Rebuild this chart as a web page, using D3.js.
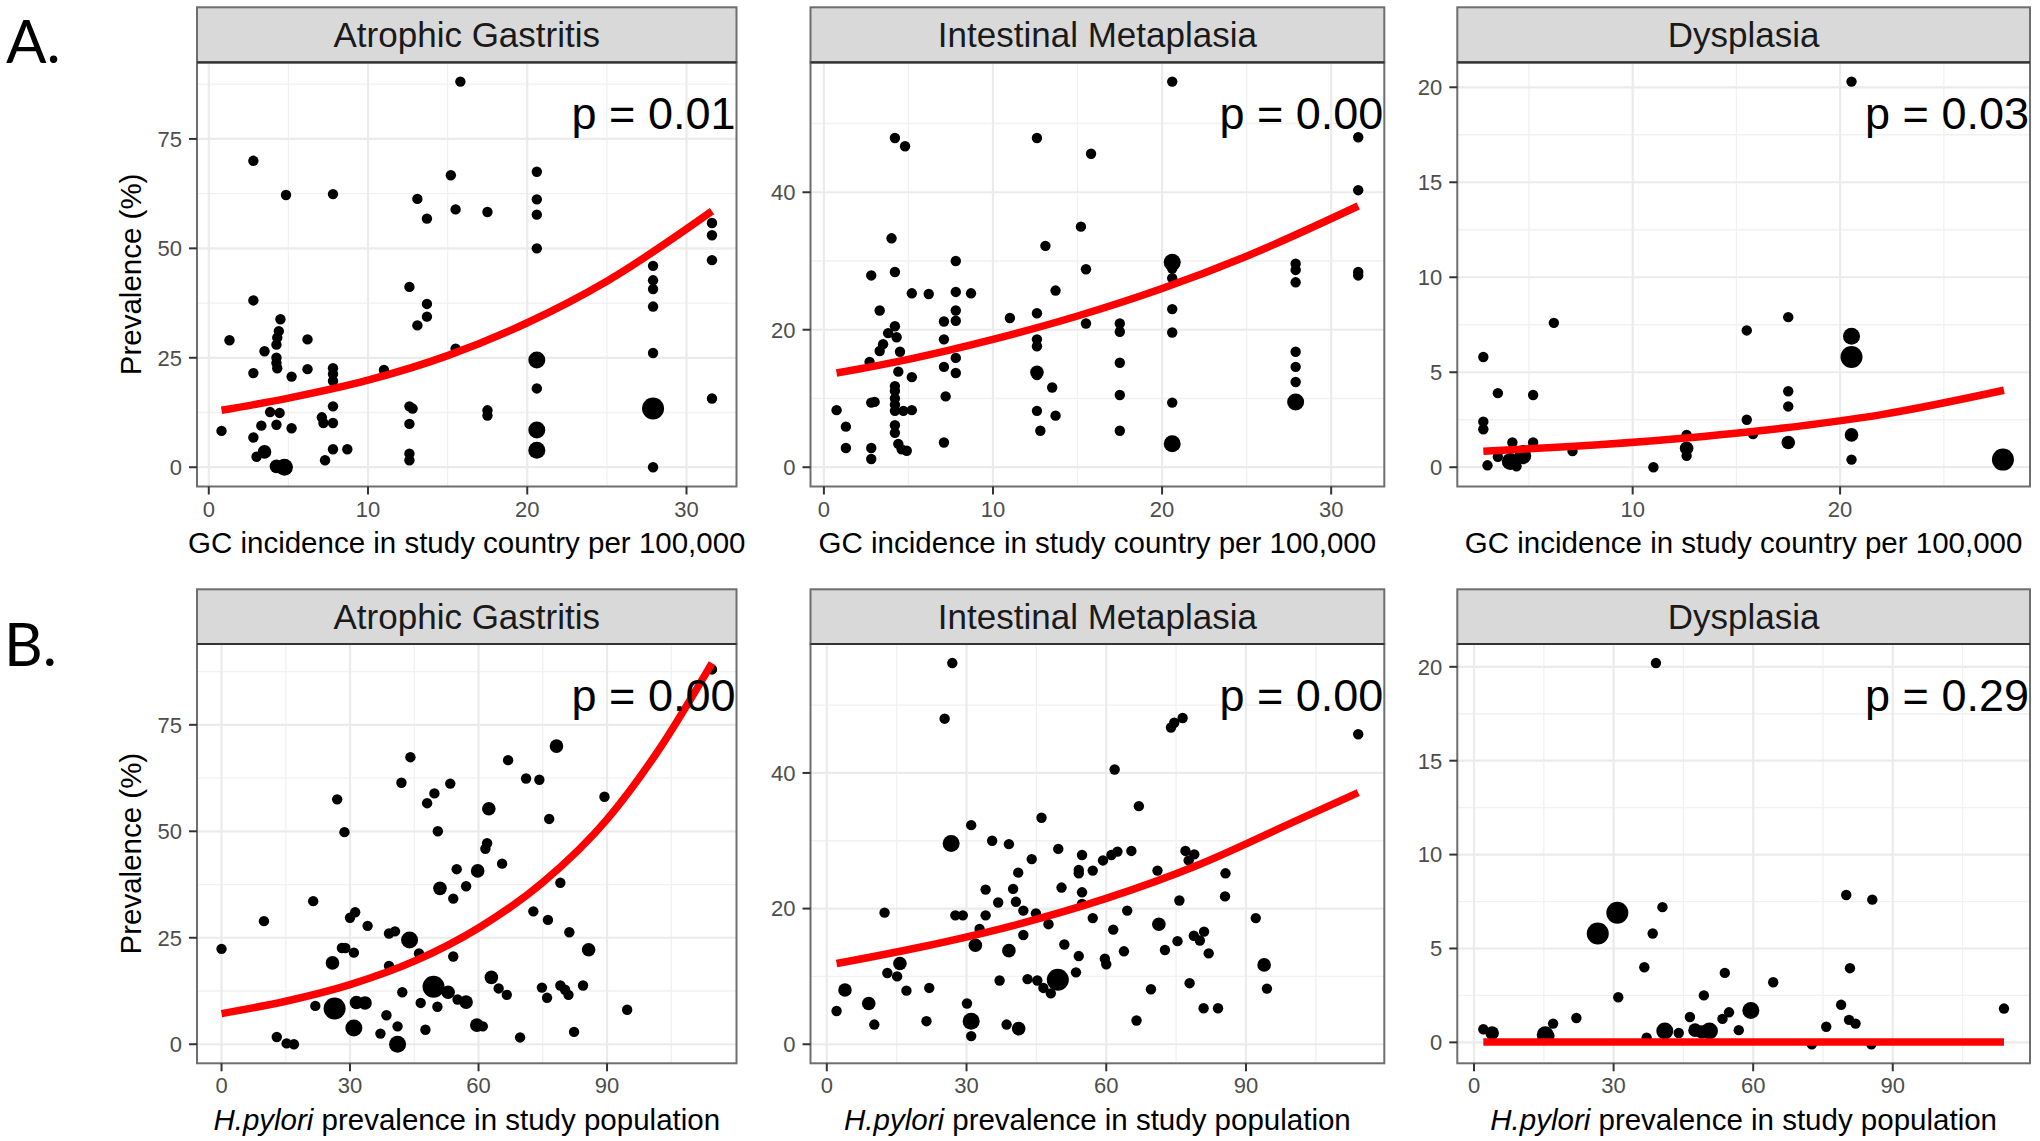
<!DOCTYPE html>
<html>
<head>
<meta charset="utf-8">
<script src="https://cdn.jsdelivr.net/npm/d3@7"></script>
<style>
  body { margin: 0; background: #fff; }
  svg { display: block; }
  text { font-family: "Liberation Sans", Arial, Helvetica, sans-serif; }
</style>
</head>
<body>
<svg id="chart" width="2040" height="1141"></svg>
<script>
// ---- data: [x, y, size class] ----

// A. GC incidence (per 100,000) vs prevalence
const agIncidence = [
  [15.8, 88.1, 1], [2.8, 70, 1], [4.85, 62.2, 1], [7.8, 62.4, 1], [15.2, 66.7, 1],
  [13.1, 61.3, 1], [15.5, 58.9, 1], [17.5, 58.3, 1], [13.7, 56.8, 1],
  [20.6, 67.5, 1], [20.6, 61.2, 1], [20.6, 57.7, 1], [20.6, 50, 1],
  [12.6, 41.2, 1], [13.7, 37.3, 1], [13.7, 34.4, 1], [13.1, 32.4, 1], [15.5, 27.1, 1],
  [2.8, 38.1, 1], [1.3, 29, 1], [3.5, 26.5, 1], [4.5, 33.8, 1], [4.4, 31.1, 1],
  [4.3, 29.6, 1], [4.25, 28, 1], [4.25, 25, 1], [4.25, 23.8, 1], [4.3, 22.6, 1],
  [2.8, 21.5, 1], [5.2, 20.7, 1], [6.2, 29.2, 1], [6.2, 22.4, 1], [7.8, 22.6, 1],
  [7.8, 21.3, 1], [7.8, 19.7, 1], [11.0, 22.2, 1],
  [27.9, 46, 1], [27.9, 42.7, 1], [27.9, 40.7, 1], [27.9, 36.7, 1], [27.9, 26.1, 1],
  [27.9, 13.4, 4], [27.9, 0, 1],
  [31.6, 55.8, 1], [31.6, 53, 1], [31.6, 47.3, 1], [31.6, 15.7, 1],
  [20.6, 24.5, 3], [20.6, 18, 1], [20.6, 8.5, 3], [20.6, 3.9, 3],
  [17.5, 13, 1], [17.5, 11.8, 1], [12.6, 13.9, 1], [12.8, 13.4, 1], [12.6, 9.9, 1],
  [12.6, 3.1, 1], [12.6, 1.6, 1],
  [0.8, 8.3, 1], [2.8, 6.8, 1], [3.3, 9.5, 1], [3.0, 2.4, 1], [3.5, 3.5, 2],
  [3.85, 12.6, 1], [4.45, 12.4, 1], [4.25, 9.7, 1], [4.25, 0.2, 2], [4.75, 0, 3],
  [5.2, 8.9, 1], [7.1, 11.4, 1], [7.2, 10.1, 1], [7.3, 1.6, 1], [7.8, 13.9, 1],
  [7.8, 10.1, 1], [7.8, 4.1, 1], [8.7, 4.1, 1]
];
const agIncidenceFit = [[0.8, 13.0], [5, 15.8], [10, 19.9], [15, 25.5], [20, 33.0], [25, 42.5], [31.6, 58.5]];

const imIncidence = [
  [20.6, 56.1, 1], [4.2, 47.9, 1], [4.8, 46.7, 1], [12.6, 47.9, 1], [15.8, 45.6, 1],
  [31.6, 48, 1], [31.6, 40.3, 1], [15.2, 35, 1], [13.1, 32.2, 1], [4.0, 33.3, 1],
  [4.2, 28.4, 1], [2.8, 27.9, 1], [7.8, 30, 1], [15.5, 28.8, 1], [13.7, 25.7, 1],
  [5.2, 25.3, 1], [6.2, 25.2, 1], [7.8, 25.5, 1], [8.7, 25.3, 1], [3.3, 22.8, 1],
  [7.8, 22.8, 1], [7.8, 21.3, 1], [7.1, 21.2, 1], [7.1, 18.6, 1], [11.0, 21.7, 1],
  [12.6, 22.4, 1], [12.6, 18.6, 1], [12.6, 17.6, 1], [15.5, 20.9, 1], [17.5, 20.9, 1],
  [17.5, 19.7, 1],
  [20.6, 29.8, 3], [20.6, 28.9, 1], [20.6, 27.5, 1], [20.6, 23, 1], [20.6, 19.6, 1],
  [20.6, 9.4, 1], [20.6, 3.4, 3],
  [27.9, 29.6, 1], [27.9, 28.7, 1], [27.9, 26.9, 1], [27.9, 16.8, 1], [27.9, 14.6, 1],
  [27.9, 12.4, 1], [27.9, 9.5, 3], [31.6, 28.4, 1], [31.6, 27.9, 1],
  [4.2, 20.5, 1], [3.8, 19.5, 1], [4.3, 18.9, 1], [3.5, 17.9, 1], [3.3, 16.9, 1],
  [4.5, 16.8, 1], [2.7, 15.3, 1], [4.4, 13.9, 1], [5.2, 13.1, 1], [4.2, 11.8, 1],
  [4.2, 11.1, 1], [4.2, 10, 1], [4.2, 9.1, 1], [4.2, 8.2, 1], [4.7, 8.2, 1],
  [5.2, 8.3, 1], [4.2, 6.1, 1], [4.2, 5.0, 1], [4.4, 3.4, 1], [4.6, 2.6, 1],
  [4.9, 2.4, 1], [0.75, 8.3, 1], [1.3, 5.9, 1], [1.3, 2.8, 1], [2.8, 9.4, 1],
  [3.0, 9.5, 1], [2.8, 2.8, 1], [2.8, 1.2, 1], [7.1, 14.6, 1], [7.8, 15.9, 1],
  [7.8, 13.7, 1], [7.2, 10.3, 1], [7.1, 3.6, 1], [12.6, 13.8, 2], [12.6, 13.4, 1],
  [13.5, 11.6, 1], [12.6, 8.2, 1], [13.7, 7.5, 1], [12.8, 5.3, 1], [17.5, 15.2, 1],
  [17.5, 10.5, 1], [17.5, 5.3, 1]
];
const imIncidenceFit = [[0.75, 13.7], [5, 15.7], [10, 18.6], [15, 22.0], [20, 26.0], [25, 30.7], [31.6, 38.0]];

const dysIncidence = [
  [20.55, 20.3, 1], [6.2, 7.6, 1], [2.8, 5.8, 1], [3.5, 3.9, 1], [5.2, 3.8, 1],
  [2.8, 2.4, 1], [2.8, 2.0, 1], [4.2, 1.3, 1], [5.2, 1.3, 1], [3.0, 0.1, 1],
  [3.5, 0.55, 1], [4.1, 0.3, 3], [4.4, 0.05, 1], [4.7, 0.6, 3], [4.7, 0.9, 1],
  [7.1, 0.85, 1], [11.0, 0, 1], [12.6, 1.7, 1], [12.6, 1.0, 2], [12.6, 0.6, 1],
  [15.5, 7.2, 1], [15.5, 2.5, 1], [15.8, 1.75, 1], [17.5, 7.9, 1], [17.5, 4.0, 1],
  [17.5, 3.2, 1], [17.5, 1.3, 2], [20.55, 6.9, 3], [20.55, 5.8, 4], [20.55, 1.7, 2],
  [20.55, 0.4, 1], [27.85, 0.4, 4]
];
const dysIncidenceFit = [[2.8, 0.84], [7, 1.09], [12, 1.49], [17, 2.03], [22, 2.77], [27.9, 4.05]];

// B. H. pylori prevalence in study population vs prevalence
const agPylori = [
  [0, 22.4, 1], [9.9, 28.9, 1], [21.4, 33.6, 1], [27, 57.5, 1], [28.7, 49.8, 1],
  [30, 29.7, 1], [31.2, 31.0, 1], [34.1, 27.8, 1], [25.9, 19.1, 2], [28.1, 22.6, 1],
  [28.9, 22.6, 1], [30.9, 21.5, 1], [39.1, 26.0, 1], [40.5, 26.5, 1], [43.9, 24.5, 3],
  [46.1, 21.3, 1], [39.1, 18.4, 1], [42, 61.4, 1], [44.1, 67.4, 1], [48, 56.6, 1],
  [49.7, 58.9, 1], [53.4, 61.2, 1], [50.5, 50, 1], [62.4, 55.3, 2], [62, 47.2, 1],
  [61.6, 45.9, 1], [59.8, 40.7, 2], [54.9, 41.1, 1], [65.5, 42.4, 1], [51, 36.6, 2],
  [57.1, 37.1, 1], [54.1, 34.2, 1], [66.9, 66.7, 1], [71.1, 62.4, 1], [74.2, 62.1, 1],
  [78.2, 70, 2], [76.5, 52.9, 1], [89.4, 58.1, 1], [79.1, 37.9, 1], [72.8, 31.2, 1],
  [76.2, 29.2, 1], [81.2, 26.3, 1], [85.7, 22.2, 2], [54.1, 20.6, 1], [63, 15.7, 2],
  [64.7, 13.1, 1], [66.6, 11.6, 1], [74.8, 13.3, 1], [76, 10.9, 1], [79.1, 13.8, 1],
  [80.2, 12.8, 1], [81, 11.6, 1], [84.4, 13.8, 1], [94.7, 8.1, 1], [82.3, 2.9, 1],
  [69.7, 1.6, 1], [49.5, 13.5, 4], [52.9, 12.2, 2], [55.1, 10.5, 1], [57.1, 9.9, 2],
  [46.5, 9.7, 1], [50.4, 8.8, 1], [42.2, 12.2, 1], [31.5, 9.8, 2], [33.5, 9.7, 2],
  [26.4, 8.4, 4], [21.9, 9.0, 1], [38.5, 6.8, 1], [41.1, 4.2, 1], [47.6, 3.4, 1],
  [30.9, 3.8, 3], [37.1, 2.5, 1], [59.6, 4.5, 2], [61, 4.2, 1], [41.1, 0, 3],
  [12.9, 1.7, 1], [15.2, 0.2, 1], [16.9, 0, 1], [114.5, 88, 1]
];
const agPyloriFit = [[0, 7.2], [15, 10.1], [30, 14.0], [45, 19.5], [60, 27.3], [75, 38.0], [90, 52.8], [102, 69.0], [114.5, 89.5]];

const imPylori = [
  [26.95, 56.2, 1], [25.3, 48, 1], [73.9, 46.7, 1], [74.6, 47.4, 1], [76.4, 48.1, 1],
  [114.1, 45.7, 1], [61.8, 40.5, 1], [67, 35.1, 1], [46.1, 33.4, 1], [31, 32.3, 1],
  [35.5, 30, 1], [39.1, 29.5, 1], [26.7, 29.6, 3], [49.7, 28.8, 1], [54.8, 27.9, 1],
  [44, 27.3, 1], [59.3, 27.1, 1], [61.1, 27.9, 1], [62.4, 28.4, 1], [65.4, 28.5, 1],
  [77, 28.5, 1], [78.9, 28, 1], [77.7, 27.1, 1], [54.1, 25.7, 1], [57.1, 25.6, 1],
  [41.1, 25.3, 1], [71, 25.6, 1], [85.6, 25.2, 1], [54.1, 25.2, 1], [34.1, 22.8, 1],
  [40, 22.9, 1], [50.4, 23.1, 1], [54.8, 22.4, 1], [36.8, 20.9, 1], [40.6, 21, 1],
  [75.7, 21.2, 1], [85.5, 21.8, 1], [54.8, 20.7, 1], [12.4, 19.4, 1], [27.6, 19, 1],
  [29.2, 19, 1], [34.1, 19, 1], [42.2, 19.7, 1], [44.9, 19.3, 1], [64.5, 19.7, 1],
  [57.1, 18.6, 1], [47.6, 17.7, 1], [92.1, 18.6, 1], [71.3, 17.7, 2], [32.8, 17, 1],
  [61.5, 16.9, 1], [81, 16.6, 1], [78.8, 16, 1], [80.1, 15.3, 1], [75.3, 15.2, 1],
  [31.9, 14.6, 2], [42.2, 16.1, 1], [51, 14.7, 1], [39.1, 13.8, 2], [54.1, 13, 1],
  [63.8, 13.7, 1], [72.6, 13.9, 1], [82, 13.4, 1], [59.7, 12.6, 1], [60, 11.8, 1],
  [93.9, 11.7, 2], [15.7, 11.9, 2], [13, 10.5, 1], [15.1, 10, 1], [53.5, 10.6, 1],
  [43.1, 9.6, 1], [45.2, 9.4, 1], [49.6, 9.5, 4], [37.1, 9.4, 1], [46.5, 8.3, 1],
  [48.1, 7.5, 1], [77.9, 9, 1], [69.6, 8.1, 1], [94.5, 8.2, 1], [3.9, 8.0, 2],
  [17.1, 7.9, 1], [22, 8.3, 1], [9, 6.0, 2], [2.1, 4.9, 1], [10.2, 2.9, 1],
  [21.4, 3.4, 1], [30.1, 6.0, 1], [31, 3.4, 3], [31, 1.2, 1], [38.6, 2.9, 1],
  [41.2, 2.3, 2], [80.9, 5.3, 1], [84, 5.3, 1], [66.5, 3.5, 1]
];
const imPyloriFit = [[2.1, 11.9], [20, 14.3], [40, 17.5], [60, 21.5], [80, 26.5], [100, 32.7], [114.1, 37.1]];

const dysPylori = [
  [39.1, 20.2, 1], [30.8, 6.9, 4], [26.6, 5.8, 4], [40.5, 7.2, 1], [38.4, 5.8, 1],
  [36.6, 4.0, 1], [31, 2.4, 1], [22, 1.3, 1], [17, 1.0, 1], [15.3, 0.4, 3],
  [16.2, 0.35, 1], [2, 0.7, 1], [3.9, 0.5, 2], [37.1, 0.25, 1], [41, 0.6, 3],
  [44, 0.5, 1], [46.4, 1.35, 1], [47.5, 0.65, 2], [49.4, 2.5, 1], [50.6, 0.6, 3],
  [49, 0.55, 2], [53.9, 3.7, 1], [53.4, 1.25, 1], [54.8, 1.6, 1], [56.9, 0.65, 1],
  [59.5, 1.7, 3], [64.3, 3.2, 1], [75.7, 0.83, 1], [78.9, 2.0, 1], [80, 7.85, 1],
  [85.6, 7.6, 1], [80.8, 3.95, 1], [80.6, 1.2, 1], [82, 1.0, 1], [113.9, 1.8, 1],
  [72.6, -0.1, 1], [85.4, -0.1, 1]
];
const dysPyloriFit = [[2, 0.02], [113.9, 0.02]];

// tick labels and texts
const facetTitles = ["Atrophic Gastritis", "Intestinal Metaplasia", "Dysplasia"];
const pValuesA = ["p = 0.01", "p = 0.00", "p = 0.03"];
const pValuesB = ["p = 0.00", "p = 0.00", "p = 0.29"];
const xTicksA = [[0, 10, 20, 30], [0, 10, 20, 30], [10, 20]];
const xTicksB = [[0, 30, 60, 90], [0, 30, 60, 90], [0, 30, 60, 90]];
const yTicks = [[0, 25, 50, 75], [0, 20, 40], [0, 5, 10, 15, 20]];
const xTitleA = "GC incidence in study country per 100,000";
const yTitle = "Prevalence (%)";

// ---- layout ----
const svg = d3.select("#chart");
const cols = [{ x0: 197, x1: 736.5 }, { x0: 810.5, x1: 1384.3 }, { x0: 1457.3, x1: 2030 }];
const rows = [
  { stripTop: 7.3, top: 62.3, bottom: 486.5 },
  { stripTop: 589.3, top: 644, bottom: 1063.3 }
];
const radius = [0, 5.2, 6.8, 8.5, 11];

let clipId = 0;

function minorBreaks(major, domain) {
  const step = major[1] - major[0];
  const out = [];
  for (let v = major[0] - step / 2; v <= domain[1]; v += step) {
    if (v >= domain[0] && !major.includes(v)) out.push(v);
  }
  return out;
}

function expanded(values) {
  const [lo, hi] = d3.extent(values);
  const pad = (hi - lo) * 0.05;
  return [lo - pad, hi + pad];
}

function drawPanel(opt) {
  const col = cols[opt.col], row = rows[opt.row];
  const g = svg.append("g");

  const xDomain = expanded(opt.points.map(d => d[0]).concat(opt.fit.map(d => d[0])));
  const yDomain = expanded(opt.points.map(d => d[1]).concat(opt.fit.map(d => d[1]), [0]));
  const x = d3.scaleLinear().domain(xDomain).range([col.x0, col.x1]);
  const y = d3.scaleLinear().domain(yDomain).range([row.bottom, row.top]);

  const id = "clip" + (clipId++);
  svg.append("clipPath").attr("id", id).append("rect")
    .attr("x", col.x0).attr("y", row.top)
    .attr("width", col.x1 - col.x0).attr("height", row.bottom - row.top);

  const inner = g.append("g").attr("clip-path", `url(#${id})`);
  inner.append("rect")
    .attr("x", col.x0).attr("y", row.top)
    .attr("width", col.x1 - col.x0).attr("height", row.bottom - row.top)
    .attr("fill", "#fff");

  // minor grid
  inner.selectAll(".gxm").data(minorBreaks(opt.xTicks, xDomain)).join("line")
    .attr("x1", d => x(d)).attr("x2", d => x(d))
    .attr("y1", row.top).attr("y2", row.bottom)
    .attr("stroke", "#f1f1f1").attr("stroke-width", 1.3);
  inner.selectAll(".gym").data(minorBreaks(opt.yTicks, yDomain)).join("line")
    .attr("y1", d => y(d)).attr("y2", d => y(d))
    .attr("x1", col.x0).attr("x2", col.x1)
    .attr("stroke", "#f1f1f1").attr("stroke-width", 1.3);
  // major grid
  inner.selectAll(".gx").data(opt.xTicks).join("line")
    .attr("x1", d => x(d)).attr("x2", d => x(d))
    .attr("y1", row.top).attr("y2", row.bottom)
    .attr("stroke", "#ebebeb").attr("stroke-width", 2.2);
  inner.selectAll(".gy").data(opt.yTicks).join("line")
    .attr("y1", d => y(d)).attr("y2", d => y(d))
    .attr("x1", col.x0).attr("x2", col.x1)
    .attr("stroke", "#ebebeb").attr("stroke-width", 2.2);

  // points
  inner.selectAll("circle").data(opt.points).join("circle")
    .attr("cx", d => x(d[0])).attr("cy", d => y(d[1]))
    .attr("r", d => radius[d[2]])
    .attr("fill", "#000");

  // fitted curve
  const line = d3.line().x(d => x(d[0])).y(d => y(d[1])).curve(d3.curveMonotoneX);
  inner.append("path").datum(opt.fit)
    .attr("d", line)
    .attr("fill", "none").attr("stroke", "#ff0000")
    .attr("stroke-width", 7.5);

  // p value
  inner.append("text")
    .attr("x", col.x1 - 1).attr("y", row.top + 67)
    .attr("text-anchor", "end")
    .attr("font-size", 45).attr("fill", "#000")
    .text(opt.pText);

  // panel border
  g.append("rect")
    .attr("x", col.x0).attr("y", row.top)
    .attr("width", col.x1 - col.x0).attr("height", row.bottom - row.top)
    .attr("fill", "none").attr("stroke", "#6e6e6e").attr("stroke-width", 2);

  // strip
  g.append("rect")
    .attr("x", col.x0).attr("y", row.stripTop)
    .attr("width", col.x1 - col.x0).attr("height", row.top - row.stripTop)
    .attr("fill", "#d9d9d9").attr("stroke", "#6e6e6e").attr("stroke-width", 2);
  g.append("line")
    .attr("x1", col.x0).attr("x2", col.x1)
    .attr("y1", row.top).attr("y2", row.top)
    .attr("stroke", "#333").attr("stroke-width", 2.2);
  g.append("text")
    .attr("x", (col.x0 + col.x1) / 2)
    .attr("y", (row.stripTop + row.top) / 2 + 12.5)
    .attr("text-anchor", "middle")
    .attr("font-size", 35).attr("fill", "#1a1a1a")
    .text(opt.title);

  // axes
  const xAxis = g.append("g");
  xAxis.selectAll("line").data(opt.xTicks).join("line")
    .attr("x1", d => x(d)).attr("x2", d => x(d))
    .attr("y1", row.bottom).attr("y2", row.bottom + 8)
    .attr("stroke", "#333").attr("stroke-width", 2);
  xAxis.selectAll("text").data(opt.xTicks).join("text")
    .attr("x", d => x(d)).attr("y", row.bottom + 30)
    .attr("text-anchor", "middle")
    .attr("font-size", 22).attr("fill", "#4d4d4d")
    .text(d => d);

  const yAxis = g.append("g");
  yAxis.selectAll("line").data(opt.yTicks).join("line")
    .attr("y1", d => y(d)).attr("y2", d => y(d))
    .attr("x1", col.x0 - 8).attr("x2", col.x0)
    .attr("stroke", "#333").attr("stroke-width", 2);
  yAxis.selectAll("text").data(opt.yTicks).join("text")
    .attr("x", col.x0 - 15).attr("y", d => y(d) + 7.9)
    .attr("text-anchor", "end")
    .attr("font-size", 22).attr("fill", "#4d4d4d")
    .text(d => d);

  // x title
  const xt = g.append("text")
    .attr("x", (col.x0 + col.x1) / 2).attr("y", row.bottom + 66.5)
    .attr("text-anchor", "middle")
    .attr("font-size", 29.5).attr("fill", "#000");
  if (opt.row === 0) {
    xt.text(xTitleA);
  } else {
    xt.append("tspan").attr("font-style", "italic").text("H.pylori");
    xt.append("tspan").text(" prevalence in study population");
  }

  if (opt.col === 0) {
    g.append("text")
      .attr("transform", `translate(141,${(row.top + row.bottom) / 2}) rotate(-90)`)
      .attr("text-anchor", "middle")
      .attr("font-size", 29.5).attr("fill", "#000")
      .text(yTitle);
  }
}

const panelsA = [
  { points: agIncidence, fit: agIncidenceFit },
  { points: imIncidence, fit: imIncidenceFit },
  { points: dysIncidence, fit: dysIncidenceFit }
];
const panelsB = [
  { points: agPylori, fit: agPyloriFit },
  { points: imPylori, fit: imPyloriFit },
  { points: dysPylori, fit: dysPyloriFit }
];

panelsA.forEach((p, i) => drawPanel({
  row: 0, col: i, points: p.points, fit: p.fit, title: facetTitles[i],
  pText: pValuesA[i], xTicks: xTicksA[i], yTicks: yTicks[i]
}));
panelsB.forEach((p, i) => drawPanel({
  row: 1, col: i, points: p.points, fit: p.fit, title: facetTitles[i],
  pText: pValuesB[i], xTicks: xTicksB[i], yTicks: yTicks[i]
}));

// row labels
svg.append("text").attr("x", 6).attr("y", 63)
  .style("font-family", "Lato, 'Open Sans', sans-serif")
  .attr("font-size", 60).attr("fill", "#000").text("A.");
svg.append("text").attr("x", 4).attr("y", 666)
  .style("font-family", "Lato, 'Open Sans', sans-serif")
  .attr("font-size", 60).attr("fill", "#000").text("B.");
</script>
</body>
</html>
